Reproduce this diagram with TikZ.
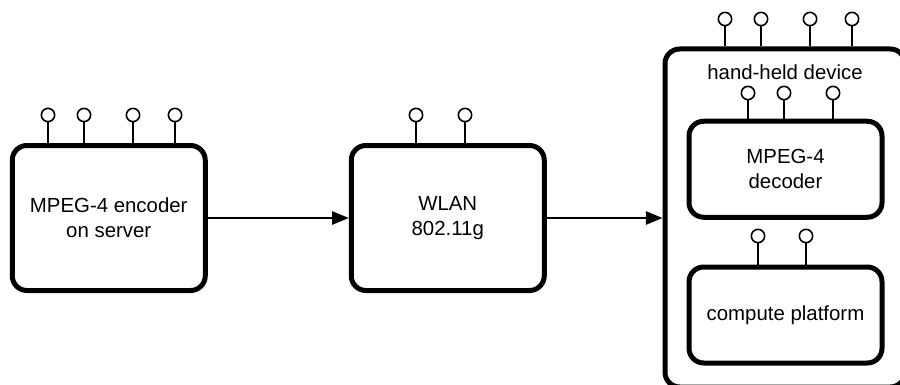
\documentclass[tikz,border=0pt]{standalone}
\usepackage{fontspec}
\setmainfont{Liberation Sans}
\usetikzlibrary{arrows.meta}
\tikzset{
  block/.style={draw,line width=3.75pt,rounded corners=11pt,align=center,inner sep=0pt,font=\fontsize{15.3pt}{18.75pt}\selectfont},
  pin/.style={draw,circle,fill=white,line width=1.2pt,minimum size=10pt,inner sep=0pt},
  lead/.style={line width=1.2pt},
  link/.style={line width=1.2pt,-{Triangle[length=12.5pt,width=10pt]}}
}
\begin{document}
\begin{tikzpicture}[x=0.75pt,y=-0.75pt]
\useasboundingbox (0,0) rectangle (900,385);

% blocks
\node[block,minimum width=144.75pt,minimum height=108.75pt] (enc) at (108.75,218) {MPEG-4 encoder\\on server};
\node[block,minimum width=144.75pt,minimum height=108.75pt] (wlan) at (447.75,218) {WLAN\\802.11g};
\node[block,minimum width=180pt,minimum height=253.5pt] (dev) at (785,218) {};
\node[block,minimum width=144.75pt,minimum height=72pt] (dec) at (785.5,169.25) {MPEG-4\\decoder};
\node[block,minimum width=144.75pt,minimum height=72pt] (cpu) at (785.5,315) {compute platform};
\node[font=\fontsize{15.3pt}{18.75pt}\selectfont] (devlabel) at (785,72) {hand-held device};

% pins
\foreach \x/\n in {48/a,84/b,133/c,175/d}{
  \node[pin] (enc\n) at (\x,115) {};
  \draw[lead] (enc\n) -- (enc\n |- enc.north);
}
\foreach \x/\n in {416/a,465/b}{
  \node[pin] (wlan\n) at (\x,115) {};
  \draw[lead] (wlan\n) -- (wlan\n |- wlan.north);
}
\foreach \x/\n in {725/a,761/b,810/c,852/d}{
  \node[pin] (dev\n) at (\x,19) {};
  \draw[lead] (dev\n) -- (dev\n |- dev.north);
}
\foreach \x/\n in {748/a,784/b,833/c}{
  \node[pin] (dec\n) at (\x,93) {};
  \draw[lead] (dec\n) -- (dec\n |- dec.north);
}
\foreach \x/\n in {758/a,806/b}{
  \node[pin] (cpu\n) at (\x,236) {};
  \draw[lead] (cpu\n) -- (cpu\n |- cpu.north);
}

% links
\draw[link] (enc.east) -- (wlan.west);
\draw[link] (wlan.east) -- (dev.west);

\end{tikzpicture}
\end{document}
